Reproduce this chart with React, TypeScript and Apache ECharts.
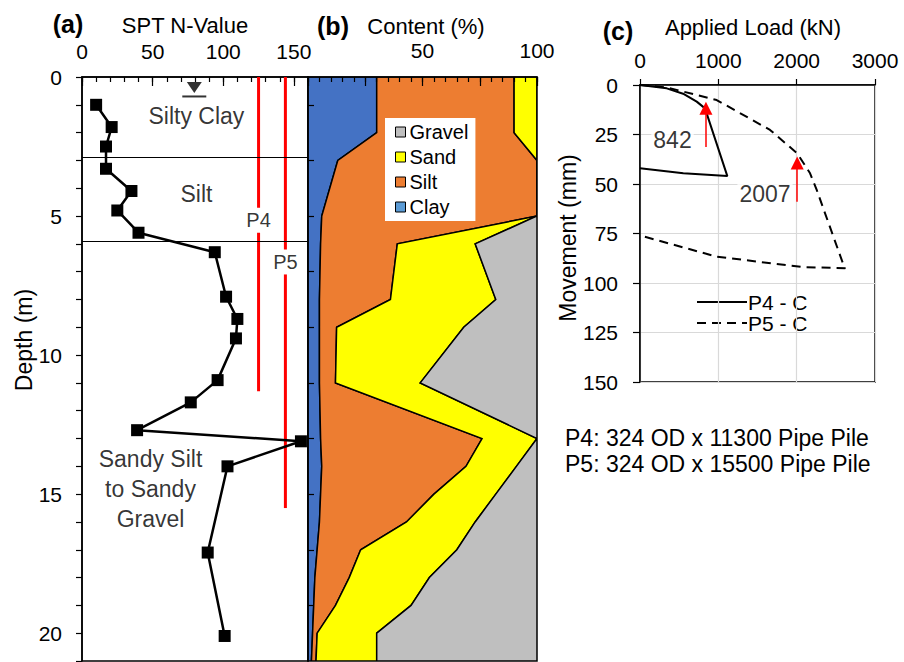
import React, { useEffect, useRef } from "react";
import * as echarts from "echarts";

const FONT = "Arial, 'Liberation Sans', Helvetica, sans-serif";

// ---- (a) SPT profile ----
const sptDepth = [1.0, 1.8, 2.5, 3.3, 4.1, 4.8, 5.6, 6.3, 7.9, 8.7, 9.4, 10.9, 11.7, 12.7, 13.1, 14.0, 17.1, 20.1];
const sptN = [10, 21, 17, 17, 35, 25, 40, 94, 102, 110, 109, 96, 77, 39, 155, 103, 89, 101];

const layerBoundaryDepth = [2.9, 5.9];
const layerNames = ["Silty Clay", "Silt", "Sandy Silt\nto Sandy\nGravel"];
const layerNameN = [81, 81, 48.5];
const layerNameDepth = [1.4, 4.2, 14.8];

const waterTableDepth = 0.7;
const waterTableN = 79.5;

const pileNames = ["P4", "P5"];
const pileTipDepth = [11.3, 15.5];
const pileMarkerN = [125, 144];
const pileLabelDepth = [5.15, 6.65];

// ---- (b) grain size distribution (% by layer) ----
const gradDepth = [0, 2, 3, 5, 6, 8, 9, 11, 13, 14, 15, 16, 17, 18, 19, 20, 21];
const clayPct = [30, 30, 13, 6, 5.5, 5, 5, 5, 5.5, 6, 5.5, 5, 4, 3, 2.5, 2, 1.5];
const siltPct = [60, 60, 87, 94, 33.5, 31, 7.5, 7, 70.5, 63, 49.5, 38, 19, 15, 9.5, 2, 2];
const sandPct = [10, 10, 0, 0, 34, 46, 55.5, 37, 24, 22, 27, 30, 42, 35, 33, 26, 26.5];
const gravelPct = [0, 0, 0, 0, 27, 18, 32, 51, 0, 9, 18, 27, 35, 47, 55, 70, 70];

// ---- (c) load - movement ----
const p4Load = [0, 341, 550, 724, 830, 1115, 553, 0];
const p4Mov = [0, 1.7, 4.4, 8.4, 11.8, 46, 44.6, 42];
const p5Load = [0, 341, 979, 1660, 2007, 2171, 2256, 2590, 2620, 2085, 979, 0];
const p5Mov = [0, 1.2, 7.6, 22.7, 34.5, 44.6, 53, 90, 92.5, 92, 86.7, 76];

const capacityLoad = [842, 2007];
const arrowTipMov = [11.7, 39.4];
const arrowTailMov = [31.3, 59];
const capacityLabelLoad = [415, 1596];
const capacityLabelMov = [27.8, 54.8];

const loadTestNames = ["P4 - C", "P5 - C"];
const pileDescriptions = ["P4: 324 OD x 11300 Pipe Pile", "P5: 324 OD x 15500 Pipe Pile"];

const BLACK = "#000";
const P5_DASH = [9, 6];
const axisLineBlack = { show: true, lineStyle: { color: BLACK, width: 1.5 } };
const tickStyle = { color: BLACK, width: 1.2 };
const tickLabel = { color: BLACK, fontFamily: FONT, fontSize: 21 };

const oddDepths = [1, 3, 5, 7, 9, 11, 13, 15, 17, 19];

function cumulative(layers: number[][]): number[][] {
  const out: number[][] = [gradDepth.map(() => 0)];
  layers.forEach((layer, k) => {
    out.push(layer.map((v, i) => out[k][i] + v));
  });
  return out;
}

function layerSeries(name: string, lower: number[], upper: number[], color: string) {
  return {
    type: "custom",
    name,
    xAxisIndex: 2,
    yAxisIndex: 1,
    clip: true,
    itemStyle: { color },
    data: [[0, 0]],
    encode: { x: 0, y: 1 },
    renderItem: (_params: any, api: any) => {
      const pts: number[][] = [];
      for (let i = 0; i < gradDepth.length; i++) pts.push(api.coord([lower[i], gradDepth[i]]));
      for (let i = gradDepth.length - 1; i >= 0; i--) pts.push(api.coord([upper[i], gradDepth[i]]));
      return {
        type: "polygon",
        shape: { points: pts },
        style: { fill: color, stroke: BLACK, lineWidth: 1.5, lineJoin: "miter" },
      };
    },
  };
}

function arrowMarkLine(k: number) {
  return {
    silent: true,
    symbol: ["none", "triangle"],
    symbolSize: 13,
    label: { show: false },
    lineStyle: { color: "#ff0000", width: 1.5, type: "solid" },
    itemStyle: { color: "#ff0000" },
    data: [[{ coord: [capacityLoad[k], arrowTailMov[k]] }, { coord: [capacityLoad[k], arrowTipMov[k]] }]],
  };
}

function buildOption() {
  const cum = cumulative([clayPct, siltPct, sandPct, gravelPct]);

  const pileSeries: any[] = [];
  pileNames.forEach((_, k) => {
    const segments = [
      [0, pileLabelDepth[k] - 0.45],
      [pileLabelDepth[k] + 0.45, pileTipDepth[k]],
    ];
    segments.forEach((seg) => {
      pileSeries.push({
        type: "line",
        xAxisIndex: 0,
        yAxisIndex: 0,
        symbol: "none",
        silent: true,
        lineStyle: { color: "#ff0000", width: 3 },
        data: seg.map((d) => [pileMarkerN[k], d]),
      });
    });
  });

  const textLabel = (size: number, extra: any = {}) => ({
    show: true,
    position: "inside",
    formatter: "{b}",
    color: BLACK,
    fontFamily: FONT,
    fontSize: size,
    ...extra,
  });

  // key for the load-movement panel
  const keyX = 687;
  const keyY = 292;
  const keyRows = [302, 323];
  const loadKey = {
    type: "group",
    z: 100,
    children: [
      { type: "rect", shape: { x: keyX, y: keyY, width: 136, height: 41 }, style: { fill: "#fff" } },
      ...loadTestNames.flatMap((nm, k) => [
        {
          type: "line",
          shape: { x1: keyX + 10, y1: keyRows[k], x2: keyX + 60, y2: keyRows[k] },
          style: { stroke: BLACK, lineWidth: 2, lineDash: k === 1 ? P5_DASH : null },
        },
        {
          type: "text",
          x: keyX + 61,
          y: keyRows[k],
          style: { text: nm, fontFamily: FONT, fontSize: 21, fill: BLACK, align: "left", verticalAlign: "middle" },
        },
      ]),
    ],
  };

  return {
    animation: false,
    backgroundColor: "#fff",
    textStyle: { fontFamily: FONT },
    grid: [
      { left: 82, top: 77, width: 226, height: 584, show: true, borderColor: BLACK, borderWidth: 1.5 },
      { left: 308, top: 77, width: 229, height: 584, show: true, borderColor: BLACK, borderWidth: 1.5 },
      { left: 640, top: 85, width: 235, height: 297, show: true, borderColor: BLACK, borderWidth: 1.5 },
    ],
    xAxis: [
      {
        gridIndex: 0, type: "value", position: "top", min: 0, max: 160, interval: 10,
        axisLine: axisLineBlack,
        axisTick: { inside: true, length: 5, lineStyle: tickStyle },
        axisLabel: { ...tickLabel, margin: 15, formatter: (v: number) => (v % 50 === 0 && v <= 150 ? String(v) : "") },
        splitLine: { show: false },
      },
      {
        gridIndex: 0, type: "value", position: "top", min: 0, max: 160, interval: 50,
        axisLine: { show: false },
        axisTick: { inside: true, length: 9, lineStyle: tickStyle },
        axisLabel: { show: false },
        splitLine: { show: false },
      },
      {
        gridIndex: 1, type: "value", position: "top", min: 0, max: 100, interval: 5, z: 10,
        axisLine: axisLineBlack,
        axisTick: { inside: true, length: 5, lineStyle: tickStyle },
        axisLabel: { ...tickLabel, margin: 16, formatter: (v: number) => (v === 50 || v === 100 ? String(v) : "") },
        splitLine: { show: false },
      },
      {
        gridIndex: 1, type: "value", position: "top", min: 0, max: 100, interval: 25, z: 10,
        axisLine: { show: false },
        axisTick: { inside: true, length: 9, lineStyle: tickStyle },
        axisLabel: { show: false },
        splitLine: { show: false },
      },
      {
        gridIndex: 2, type: "value", position: "top", min: 0, max: 3000, interval: 1000,
        axisLine: axisLineBlack,
        axisTick: { inside: false, length: 6, lineStyle: tickStyle },
        axisLabel: { ...tickLabel, margin: 14, formatter: (v: number) => String(v) },
        splitLine: { show: true, lineStyle: { color: "#d9d9d9", width: 1.2 } },
      },
    ],
    yAxis: [
      {
        gridIndex: 0, type: "value", inverse: true, min: 0, max: 21, interval: 1,
        axisLine: axisLineBlack,
        axisTick: { inside: false, length: 6, lineStyle: tickStyle },
        axisLabel: { ...tickLabel, margin: 20, formatter: (v: number) => (v % 5 === 0 ? String(v) : "") },
        splitLine: { show: false },
      },
      {
        gridIndex: 1, type: "value", inverse: true, min: 0, max: 21, interval: 1, z: 10,
        axisLine: axisLineBlack,
        axisTick: { inside: true, length: 6, lineStyle: tickStyle, customValues: oddDepths },
        axisLabel: { show: false },
        splitLine: { show: false },
      },
      {
        gridIndex: 2, type: "value", inverse: true, min: 0, max: 150, interval: 25,
        axisLine: axisLineBlack,
        axisTick: { inside: false, length: 7, lineStyle: tickStyle },
        axisLabel: { ...tickLabel, margin: 22 },
        splitLine: { show: true, lineStyle: { color: "#d9d9d9", width: 1.2 } },
      },
    ],
    legend: [
      {
        orient: "vertical",
        left: 385,
        top: 118,
        backgroundColor: "#fff",
        padding: [4, 7, 4, 10],
        itemGap: 5,
        itemWidth: 10,
        itemHeight: 10,
        icon: "rect",
        selectedMode: false,
        itemStyle: { borderColor: BLACK, borderWidth: 1 },
        textStyle: { color: BLACK, fontFamily: FONT, fontSize: 20, padding: [0, 0, 0, -1] },
        data: [
          { name: "Gravel" },
          { name: "Sand" },
          { name: "Silt" },
          { name: "Clay", itemStyle: { color: "#5b9bd5" } },
        ],
      },
    ],
    series: [
      // (a)
      {
        type: "line",
        name: "SPT N",
        xAxisIndex: 0,
        yAxisIndex: 0,
        symbol: "rect",
        symbolSize: 12,
        itemStyle: { color: BLACK },
        lineStyle: { color: BLACK, width: 2.5 },
        data: sptN.map((n, i) => [n, sptDepth[i]]),
        z: 5,
        markLine: {
          silent: true,
          symbol: "none",
          label: { show: false },
          lineStyle: { color: BLACK, width: 1.2, type: "solid" },
          data: layerBoundaryDepth.map((d) => ({ yAxis: d })),
        },
      },
      ...pileSeries,
      {
        type: "scatter",
        xAxisIndex: 0,
        yAxisIndex: 0,
        silent: true,
        symbolSize: 1,
        itemStyle: { color: "rgba(0,0,0,0)" },
        label: textLabel(20),
        data: pileNames.map((p, k) => ({ name: p, value: [pileMarkerN[k], pileLabelDepth[k]] })),
      },
      {
        type: "scatter",
        xAxisIndex: 0,
        yAxisIndex: 0,
        silent: true,
        symbol: "triangle",
        symbolRotate: 180,
        symbolSize: [15, 11],
        symbolOffset: [0, -9],
        itemStyle: { color: BLACK },
        data: [[waterTableN, waterTableDepth]],
      },
      {
        type: "scatter",
        xAxisIndex: 0,
        yAxisIndex: 0,
        silent: true,
        symbol: "rect",
        symbolSize: [24, 2],
        itemStyle: { color: BLACK },
        data: [[waterTableN, waterTableDepth]],
      },
      {
        type: "scatter",
        xAxisIndex: 0,
        yAxisIndex: 0,
        silent: true,
        symbolSize: 1,
        itemStyle: { color: "rgba(0,0,0,0)" },
        label: textLabel(23, { lineHeight: 30, align: "center" }),
        data: layerNames.map((nm, k) => ({ name: nm, value: [layerNameN[k], layerNameDepth[k]] })),
      },
      // (b)
      layerSeries("Clay", cum[0], cum[1], "#4472c4"),
      layerSeries("Silt", cum[1], cum[2], "#ed7d31"),
      layerSeries("Sand", cum[2], cum[3], "#ffff00"),
      layerSeries("Gravel", cum[3], cum[4], "#bfbfbf"),
      // (c)
      {
        type: "line",
        name: loadTestNames[0],
        xAxisIndex: 4,
        yAxisIndex: 2,
        symbol: "none",
        itemStyle: { color: BLACK },
        lineStyle: { color: BLACK, width: 2 },
        data: p4Load.map((l, i) => [l, p4Mov[i]]),
        markLine: arrowMarkLine(0),
      },
      {
        type: "line",
        name: loadTestNames[1],
        xAxisIndex: 4,
        yAxisIndex: 2,
        symbol: "none",
        itemStyle: { color: BLACK },
        lineStyle: { color: BLACK, width: 2, type: P5_DASH },
        data: p5Load.map((l, i) => [l, p5Mov[i]]),
        markLine: arrowMarkLine(1),
      },
      {
        type: "scatter",
        xAxisIndex: 4,
        yAxisIndex: 2,
        silent: true,
        symbolSize: 1,
        itemStyle: { color: "rgba(0,0,0,0)" },
        label: textLabel(23, { backgroundColor: "#fff", padding: [0, 2] }),
        data: capacityLoad.map((c, k) => ({ name: String(c), value: [capacityLabelLoad[k], capacityLabelMov[k]] })),
      },
    ],
    graphic: [
      { type: "text", x: 68, y: 24, style: { text: "(a)", fontFamily: FONT, fontSize: 25, fontWeight: "bold", fill: BLACK, align: "center", verticalAlign: "middle" } },
      { type: "text", x: 333, y: 26, style: { text: "(b)", fontFamily: FONT, fontSize: 25, fontWeight: "bold", fill: BLACK, align: "center", verticalAlign: "middle" } },
      { type: "text", x: 618, y: 31, style: { text: "(c)", fontFamily: FONT, fontSize: 25, fontWeight: "bold", fill: BLACK, align: "center", verticalAlign: "middle" } },
      { type: "text", x: 185, y: 25, style: { text: "SPT N-Value", fontFamily: FONT, fontSize: 22, fill: BLACK, align: "center", verticalAlign: "middle" } },
      { type: "text", x: 426, y: 26, style: { text: "Content (%)", fontFamily: FONT, fontSize: 22, fill: BLACK, align: "center", verticalAlign: "middle" } },
      { type: "text", x: 753, y: 27, style: { text: "Applied Load (kN)", fontFamily: FONT, fontSize: 22, fill: BLACK, align: "center", verticalAlign: "middle" } },
      { type: "text", x: 24, y: 340, rotation: Math.PI / 2, style: { text: "Depth (m)", fontFamily: FONT, fontSize: 23, fill: BLACK, align: "center", verticalAlign: "middle" } },
      { type: "text", x: 568, y: 238, rotation: Math.PI / 2, style: { text: "Movement (mm)", fontFamily: FONT, fontSize: 23, fill: BLACK, align: "center", verticalAlign: "middle" } },
      loadKey,
      ...pileDescriptions.map((t, k) => ({
        type: "text",
        x: 565,
        y: 438 + k * 26,
        style: { text: t, fontFamily: FONT, fontSize: 23, fill: BLACK, align: "left", verticalAlign: "middle" },
      })),
    ],
  };
}

export default function App() {
  const ref = useRef<HTMLDivElement>(null);
  useEffect(() => {
    document.body.style.margin = "0";
    if (!ref.current) return;
    const chart = echarts.init(ref.current, null, { renderer: "svg" });
    chart.setOption(buildOption() as any);
    return () => chart.dispose();
  }, []);
  return <div ref={ref} style={{ width: 904, height: 662 }} />;
}
